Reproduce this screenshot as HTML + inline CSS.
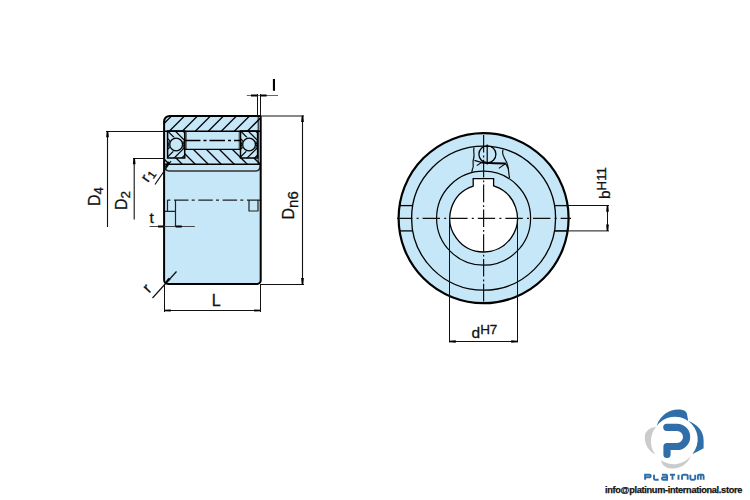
<!DOCTYPE html><html><head><meta charset="utf-8"><style>html,body{margin:0;padding:0;background:#fff;width:750px;height:500px;overflow:hidden}svg{display:block}</style></head><body><svg width="750" height="500" viewBox="0 0 750 500">
<defs>
<clipPath id="cOuter"><rect x="164.1" y="115.9" width="96.60" height="15.30"/></clipPath>
<clipPath id="cInner"><rect x="164.1" y="131" width="96.60" height="33.3"/></clipPath>
<clipPath id="cBoxL"><rect x="167.6" y="131" width="17.1" height="27"/></clipPath>
<clipPath id="cBoxR"><rect x="240.5" y="131" width="17.3" height="27"/></clipPath>
</defs>
<rect width="750" height="500" fill="#fff"/>
<path d="M169.6,115.9 H259.5 Q260.7,115.9 260.7,117.10000000000001 V280.4 A3.5,3.5 0 0 1 257.2,283.9 H168.1 A4,4 0 0 1 164.1,279.9 V121.4 A5.5,5.5 0 0 1 169.6,115.9 Z" fill="#c6e7f8"/>
<g clip-path="url(#cOuter)" stroke="#000" stroke-width="1.3"><line x1="174.5" y1="100" x2="134.5" y2="140"/><line x1="187.5" y1="100" x2="147.5" y2="140"/><line x1="200.5" y1="100" x2="160.5" y2="140"/><line x1="213.5" y1="100" x2="173.5" y2="140"/><line x1="226.5" y1="100" x2="186.5" y2="140"/><line x1="239.5" y1="100" x2="199.5" y2="140"/><line x1="252.5" y1="100" x2="212.5" y2="140"/><line x1="265.5" y1="100" x2="225.5" y2="140"/><line x1="278.5" y1="100" x2="238.5" y2="140"/><line x1="291.5" y1="100" x2="251.5" y2="140"/><line x1="304.5" y1="100" x2="264.5" y2="140"/><line x1="317.5" y1="100" x2="277.5" y2="140"/><line x1="330.5" y1="100" x2="290.5" y2="140"/><line x1="343.5" y1="100" x2="303.5" y2="140"/><line x1="356.5" y1="100" x2="316.5" y2="140"/></g>
<g clip-path="url(#cInner)" stroke="#000" stroke-width="1.3"><line x1="125" y1="120" x2="185" y2="180"/><line x1="138" y1="120" x2="198" y2="180"/><line x1="151" y1="120" x2="211" y2="180"/><line x1="164" y1="120" x2="224" y2="180"/><line x1="177" y1="120" x2="237" y2="180"/><line x1="190" y1="120" x2="250" y2="180"/><line x1="203" y1="120" x2="263" y2="180"/><line x1="216" y1="120" x2="276" y2="180"/><line x1="229" y1="120" x2="289" y2="180"/><line x1="242" y1="120" x2="302" y2="180"/><line x1="255" y1="120" x2="315" y2="180"/><line x1="268" y1="120" x2="328" y2="180"/><line x1="281" y1="120" x2="341" y2="180"/><line x1="294" y1="120" x2="354" y2="180"/><line x1="307" y1="120" x2="367" y2="180"/></g>
<rect x="184.7" y="131" width="56" height="18.3" fill="#c6e7f8"/>
<line x1="184.8" y1="131" x2="184.8" y2="149.3" stroke="#000" stroke-width="1.3" />
<line x1="186.3" y1="131" x2="186.3" y2="149.3" stroke="#666" stroke-width="1.2" />
<line x1="239.2" y1="131" x2="239.2" y2="149.3" stroke="#666" stroke-width="1.2" />
<line x1="240.6" y1="131" x2="240.6" y2="149.3" stroke="#000" stroke-width="1.3" />
<line x1="184.7" y1="149.3" x2="240.7" y2="149.3" stroke="#000" stroke-width="1.3" />
<line x1="185" y1="140.5" x2="240" y2="140.5" stroke="#000" stroke-width="1.3" stroke-dasharray="15.5 3 3 3"/>
<rect x="164.8" y="131.9" width="2.9" height="25.8" fill="#c6e7f8"/>
<rect x="257.6" y="131.9" width="2.4" height="25.8" fill="#c6e7f8"/>
<rect x="167.6" y="131" width="17.10" height="27" fill="#c6e7f8"/>
<g clip-path="url(#cBoxL)" stroke="#000" stroke-width="1.2"><line x1="132.20" y1="126" x2="152.20" y2="146"/><line x1="139.80" y1="126" x2="159.80" y2="146"/><line x1="147.40" y1="126" x2="167.40" y2="146"/><line x1="155.00" y1="126" x2="175.00" y2="146"/><line x1="162.60" y1="126" x2="182.60" y2="146"/><line x1="170.20" y1="126" x2="190.20" y2="146"/><line x1="177.80" y1="126" x2="197.80" y2="146"/><line x1="185.40" y1="126" x2="205.40" y2="146"/><line x1="193.00" y1="126" x2="213.00" y2="146"/><line x1="200.60" y1="126" x2="220.60" y2="146"/><line x1="151.20" y1="143" x2="131.20" y2="163"/><line x1="158.80" y1="143" x2="138.80" y2="163"/><line x1="166.40" y1="143" x2="146.40" y2="163"/><line x1="174.00" y1="143" x2="154.00" y2="163"/><line x1="181.60" y1="143" x2="161.60" y2="163"/><line x1="189.20" y1="143" x2="169.20" y2="163"/><line x1="196.80" y1="143" x2="176.80" y2="163"/><line x1="204.40" y1="143" x2="184.40" y2="163"/><line x1="212.00" y1="143" x2="192.00" y2="163"/><line x1="219.60" y1="143" x2="199.60" y2="163"/></g>
<circle cx="176.15" cy="144.5" r="7.6" fill="#c6e7f8" stroke="#000" stroke-width="1" stroke-dasharray="8 15.87" stroke-dashoffset="4"/>
<circle cx="176.15" cy="144.5" r="6.4" fill="#c6e7f8" stroke="#000" stroke-width="1.3"/>
<rect x="167.6" y="131" width="17.10" height="27" fill="none" stroke="#000" stroke-width="1.5"/>
<rect x="240.5" y="131" width="17.10" height="27" fill="#c6e7f8"/>
<g clip-path="url(#cBoxR)" stroke="#000" stroke-width="1.2"><line x1="205.10" y1="126" x2="225.10" y2="146"/><line x1="212.70" y1="126" x2="232.70" y2="146"/><line x1="220.30" y1="126" x2="240.30" y2="146"/><line x1="227.90" y1="126" x2="247.90" y2="146"/><line x1="235.50" y1="126" x2="255.50" y2="146"/><line x1="243.10" y1="126" x2="263.10" y2="146"/><line x1="250.70" y1="126" x2="270.70" y2="146"/><line x1="258.30" y1="126" x2="278.30" y2="146"/><line x1="265.90" y1="126" x2="285.90" y2="146"/><line x1="273.50" y1="126" x2="293.50" y2="146"/><line x1="224.10" y1="143" x2="204.10" y2="163"/><line x1="231.70" y1="143" x2="211.70" y2="163"/><line x1="239.30" y1="143" x2="219.30" y2="163"/><line x1="246.90" y1="143" x2="226.90" y2="163"/><line x1="254.50" y1="143" x2="234.50" y2="163"/><line x1="262.10" y1="143" x2="242.10" y2="163"/><line x1="269.70" y1="143" x2="249.70" y2="163"/><line x1="277.30" y1="143" x2="257.30" y2="163"/><line x1="284.90" y1="143" x2="264.90" y2="163"/><line x1="292.50" y1="143" x2="272.50" y2="163"/></g>
<circle cx="249.05" cy="144.5" r="7.6" fill="#c6e7f8" stroke="#000" stroke-width="1" stroke-dasharray="8 15.87" stroke-dashoffset="4"/>
<circle cx="249.05" cy="144.5" r="6.4" fill="#c6e7f8" stroke="#000" stroke-width="1.3"/>
<rect x="240.5" y="131" width="17.10" height="27" fill="none" stroke="#000" stroke-width="1.5"/>
<line x1="258.2" y1="116" x2="258.2" y2="164.3" stroke="#000" stroke-width="1" />
<line x1="164.1" y1="131.2" x2="260.7" y2="131.2" stroke="#000" stroke-width="1.5" />
<line x1="164.1" y1="164.2" x2="260.7" y2="164.2" stroke="#000" stroke-width="1.5" />
<path d="M164.5,164.5 Q164.7,171 169,171 L256,171 Q260.3,171 260.4,164.5" fill="none" stroke="#333" stroke-width="1.6"/>
<line x1="163" y1="200.1" x2="262" y2="200.1" stroke="#222" stroke-width="1.3" stroke-dasharray="14.5 3.2 3 3.6" stroke-dashoffset="13.3"/>
<path d="M167.5,200.1 V211.3 M164.5,211.3 H175.5 M175.5,200.1 V227 M249,200.1 V211 H258 V200.1" fill="none" stroke="#222" stroke-width="1.2"/>
<path d="M169.6,115.9 H259.5 Q260.7,115.9 260.7,117.10000000000001 V280.4 A3.5,3.5 0 0 1 257.2,283.9 H168.1 A4,4 0 0 1 164.1,279.9 V121.4 A5.5,5.5 0 0 1 169.6,115.9 Z" fill="none" stroke="#000" stroke-width="2"/>
<line x1="106" y1="131.5" x2="164" y2="131.5" stroke="#111" stroke-width="1" />
<line x1="107.5" y1="131" x2="107.5" y2="227" stroke="#111" stroke-width="1.1" />
<path d="M108.25,131.00 L108.85,137.30 L106.15,137.30 L106.75,131.00 Z" fill="#000"/>
<line x1="133" y1="158.5" x2="164" y2="158.5" stroke="#111" stroke-width="1" />
<line x1="134.2" y1="158" x2="134.2" y2="219.5" stroke="#111" stroke-width="1.1" />
<path d="M134.95,158.00 L135.55,164.30 L132.85,164.30 L133.45,158.00 Z" fill="#000"/>
<line x1="260.7" y1="116" x2="304" y2="116" stroke="#111" stroke-width="1" />
<line x1="260.7" y1="284.5" x2="304" y2="284.5" stroke="#111" stroke-width="1" />
<line x1="302.5" y1="116" x2="302.5" y2="284" stroke="#111" stroke-width="1.1" />
<path d="M303.25,115.60 L303.85,121.90 L301.15,121.90 L301.75,115.60 Z" fill="#000"/>
<path d="M301.75,284.40 L301.15,278.10 L303.85,278.10 L303.25,284.40 Z" fill="#000"/>
<line x1="257.5" y1="94" x2="257.5" y2="116" stroke="#111" stroke-width="1" />
<line x1="260.5" y1="94" x2="260.5" y2="116" stroke="#111" stroke-width="1" />
<line x1="246.8" y1="95.5" x2="278" y2="95.5" stroke="#666" stroke-width="1" />
<path d="M257.60,96.40 L251.00,96.60 L251.00,94.40 L257.60,94.60 Z" fill="#000"/>
<path d="M260.30,94.60 L266.60,94.40 L266.60,96.60 L260.30,96.40 Z" fill="#000"/>
<line x1="149.6" y1="226.5" x2="194.8" y2="226.5" stroke="#444" stroke-width="1" />
<path d="M163.80,227.40 L158.00,227.60 L158.00,225.40 L163.80,225.60 Z" fill="#000"/>
<path d="M175.60,225.60 L181.80,225.40 L181.80,227.60 L175.60,227.40 Z" fill="#000"/>
<line x1="164.5" y1="284" x2="164.5" y2="312" stroke="#111" stroke-width="1" />
<line x1="260.5" y1="284" x2="260.5" y2="312" stroke="#111" stroke-width="1" />
<line x1="164.5" y1="310.5" x2="260.5" y2="310.5" stroke="#111" stroke-width="1" />
<path d="M164.50,309.70 L170.80,309.40 L170.80,311.60 L164.50,311.30 Z" fill="#000"/>
<path d="M260.50,311.30 L254.20,311.60 L254.20,309.40 L260.50,309.70 Z" fill="#000"/>
<line x1="152.5" y1="298" x2="176.5" y2="271.5" stroke="#111" stroke-width="1.2" />
<path d="M164.75,282.80 L168.54,277.73 L170.54,279.55 L165.85,283.80 Z" fill="#000"/>
<line x1="155" y1="184.5" x2="171" y2="161" stroke="#111" stroke-width="1.2" />
<path d="M164.88,166.88 L167.93,161.33 L170.16,162.85 L166.12,167.72 Z" fill="#000"/>
<text x="216.2" y="305.9" font-size="16" text-anchor="middle" font-family="Liberation Sans, sans-serif" fill="#111" stroke="#111" stroke-width="0.3">L</text>
<rect x="272.9" y="79" width="2.1" height="11.8" fill="#000"/>
<text x="149.6" y="223.1" font-size="15.5" font-family="Liberation Sans, sans-serif" fill="#111" stroke="#111" stroke-width="0.3">t</text>
<text transform="translate(99.7,206) rotate(-90)" font-size="16" font-family="Liberation Sans, sans-serif" fill="#111" stroke="#111" stroke-width="0.3">D<tspan font-size="13.2" dy="3.5">4</tspan></text>
<text transform="translate(126.8,210) rotate(-90)" font-size="16" font-family="Liberation Sans, sans-serif" fill="#111" stroke="#111" stroke-width="0.3">D<tspan font-size="13.5" dy="3.6">2</tspan></text>
<text transform="translate(294.3,219.5) rotate(-90)" font-size="16" font-family="Liberation Sans, sans-serif" fill="#111" stroke="#111" stroke-width="0.3">D<tspan font-size="15" dy="4">n6</tspan></text>
<text transform="translate(149,293.5) rotate(-48)" font-size="15.5" font-family="Liberation Sans, sans-serif" fill="#111" stroke="#111" stroke-width="0.3">r</text>
<text transform="translate(148,183) rotate(-55)" font-size="15" font-family="Liberation Sans, sans-serif" fill="#111" stroke="#111" stroke-width="0.3">r<tspan font-size="11.5" dx="0.8" dy="2.2">1</tspan></text>
<circle cx="483.6" cy="218.2" r="85" fill="#c6e7f8" stroke="#000" stroke-width="2.2"/>
<circle cx="483.6" cy="218.2" r="72" fill="none" stroke="#000" stroke-width="1.3"/>
<circle cx="483.6" cy="218.2" r="47" fill="none" stroke="#000" stroke-width="1.2"/>
<path d="M473.2,186.04 V178.7 H493.6 V185.91 A33.8,33.8 0 1 1 473.2,186.04 Z" fill="#fff" stroke="#000" stroke-width="1.3"/>
<line x1="399.54" y1="205.6" x2="412.71" y2="205.6" stroke="#000" stroke-width="1.3" />
<line x1="554.49" y1="205.6" x2="567.66" y2="205.6" stroke="#000" stroke-width="1.3" />
<line x1="399.55" y1="230.9" x2="412.73" y2="230.9" stroke="#000" stroke-width="1.3" />
<line x1="554.47" y1="230.9" x2="567.65" y2="230.9" stroke="#000" stroke-width="1.3" />
<line x1="397" y1="218.39999999999998" x2="571" y2="218.39999999999998" stroke="#111" stroke-width="1.2" stroke-dasharray="17.4 4.2 2 4" stroke-dashoffset="2"/>
<line x1="483.6" y1="132" x2="483.6" y2="304.5" stroke="#111" stroke-width="1.2" stroke-dasharray="17.6 3 1.8 2.4" stroke-dashoffset="21.8"/>
<path d="M474,147.5 C473,152 475,155 473.5,159 C472,163 474.5,166 472.5,169 L471.8,172" fill="none" stroke="#111" stroke-width="1.2"/>
<path d="M503.2,149.5 C501,154 504,157 506,161 C509,166 508,171 509.6,178" fill="none" stroke="#111" stroke-width="1.2"/>
<circle cx="487.4" cy="154.3" r="8.5" fill="none" stroke="#000" stroke-width="1.3"/>
<line x1="487.2" y1="144.4" x2="487.2" y2="164.4" stroke="#000" stroke-width="1.2" />
<path d="M481.5,162.4 Q495,163.5 505.6,163.6" fill="none" stroke="#000" stroke-width="2"/>
<path d="M474.4,160.4 L481.6,162.4 L476.8,165.6 M498.8,168.4 L505.6,163.6 L508.8,169.6" fill="none" stroke="#000" stroke-width="1.1"/>
<line x1="555" y1="205.5" x2="609" y2="205.5" stroke="#111" stroke-width="1" />
<line x1="555" y1="230.9" x2="609" y2="230.9" stroke="#111" stroke-width="1" />
<line x1="607.5" y1="205.6" x2="607.5" y2="230.9" stroke="#111" stroke-width="1" />
<path d="M608.25,205.50 L608.85,211.80 L606.15,211.80 L606.75,205.50 Z" fill="#000"/>
<path d="M606.75,230.90 L606.15,224.60 L608.85,224.60 L608.25,230.90 Z" fill="#000"/>
<text transform="translate(610.4,199) rotate(-90)" font-size="15.5" font-family="Liberation Sans, sans-serif" fill="#111" stroke="#111" stroke-width="0.3">b<tspan font-size="13.2" dy="-4.8">H11</tspan></text>
<line x1="449.5" y1="218.2" x2="449.5" y2="342.4" stroke="#111" stroke-width="1" />
<line x1="517.5" y1="218.2" x2="517.5" y2="342.4" stroke="#111" stroke-width="1" />
<line x1="449.5" y1="341.5" x2="517.5" y2="341.5" stroke="#111" stroke-width="1" />
<path d="M449.50,340.75 L455.80,340.15 L455.80,342.85 L449.50,342.25 Z" fill="#000"/>
<path d="M517.50,342.25 L511.20,342.85 L511.20,340.15 L517.50,340.75 Z" fill="#000"/>
<text x="471.5" y="337.9" font-size="15.5" font-family="Liberation Sans, sans-serif" fill="#111" stroke="#111" stroke-width="0.3">d<tspan font-size="13.5" dy="-3.9">H7</tspan></text>
<path d="M656.7,425.9 C660,415 670,409.5 678,409.6 C684,409.7 686,411 687,414 L688.2,421 A22.5,22.5 0 0 0 656.7,425.9 Z" fill="#2f6ea8"/>
<path d="M688.2,421 C697,424 703.6,431 703.6,440 L703.6,448.3 C699,451 696,452.5 692.4,453.9 A22.5,22.5 0 0 0 688.2,421 Z" fill="#2f6ea8"/>
<path d="M656,427 C651,427.5 645,430 644.8,437 C644.6,445 649,451 655.3,454.6 A22.5,22.5 0 0 1 656,427 Z" fill="#c9cbcd"/>
<path d="M660.9,460.2 C662,466 667,468.6 673,468.6 C681,468.6 688,463 691,456 A22.5,22.5 0 0 1 660.9,460.2 Z" fill="#c9cbcd"/>
<path d="M666.8,427.3 H677 A9.6,9.6 0 0 1 677,446.5 H667 V454.5" fill="none" stroke="#2f6ea8" stroke-width="7.2" stroke-linecap="round" stroke-linejoin="round"/>
<path d="M645.1,479.7 V474.7 H649.5 A1.25,1.25 0 0 1 649.5,477.2 H645.1 M654,474.7 V478.4 A1.3,1.3 0 0 0 655.3,479.7 H658.7 M661.9,474.7 H665.8 A1.3,1.3 0 0 1 667.1,476 V479.7 H663.2 A1.25,1.25 0 0 1 663.2,477.2 H667.1 M669.9,474.7 H675.1 M672.5,474.7 V479.7 M678.5,474.7 V479.7 M682,479.7 V476 A1.3,1.3 0 0 1 683.3,474.7 H686.4 A1.3,1.3 0 0 1 687.7,476 V479.7 M690.4,474.7 V478.4 A1.3,1.3 0 0 0 691.7,479.7 H693.9 A1.3,1.3 0 0 0 695.2,478.4 V474.7 M697.9,479.7 V476 A1.3,1.3 0 0 1 699.2,474.7 H702.3 A1.3,1.3 0 0 1 703.6,476 V479.7 M700.75,474.7 V479.7" fill="none" stroke="#2f6ea8" stroke-width="1.9"/>
<text x="605" y="492.9" font-size="9" font-weight="bold" letter-spacing="-0.3" textLength="137" lengthAdjust="spacingAndGlyphs" font-family="Liberation Sans, sans-serif" fill="#111" stroke="#111" stroke-width="0.25">info@platinum-international.store</text>
</svg></body></html>
